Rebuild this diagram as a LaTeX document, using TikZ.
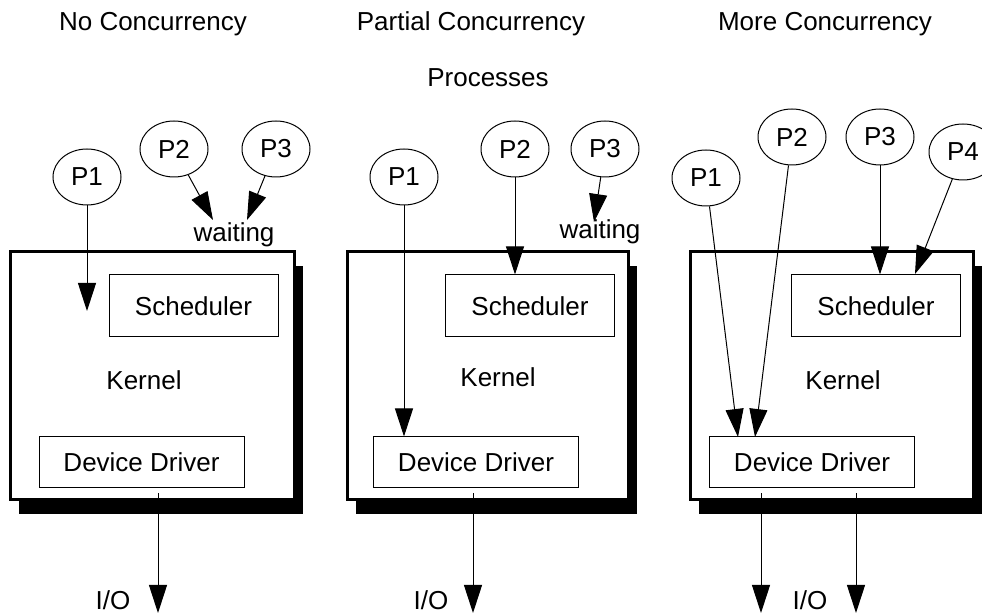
\documentclass[tikz,border=0pt]{standalone}
\usepackage{fontspec}
\setmainfont{Liberation Sans}
\usetikzlibrary{arrows.meta,shapes.geometric,shadows}
\begin{document}
\begin{tikzpicture}[x=0.5pt, y=-0.5pt,
	>={Triangle[length=14pt, width=9pt]},
	every path/.style={line width=0.5pt},
	font=\fontsize{13}{15}\selectfont,
	proc/.style={ellipse, draw, inner sep=0, minimum width=34pt,
				minimum height=28pt},
	kernel/.style={rectangle, draw, line width=1.5pt, fill=white,
				minimum height=124pt,
				drop shadow={shadow xshift=4.5pt, shadow yshift=-7pt,
					opacity=1, fill=black}},
	unit/.style={rectangle, draw, inner sep=0},
	sched/.style={unit, minimum width=84.5pt, minimum height=31pt},
	driver/.style={unit, minimum width=102.5pt, minimum height=25.5pt}]
	\useasboundingbox (0,0) rectangle (982,614);
	\node[anchor=base] (t1) at (153,31) {No Concurrency};
	\node[anchor=base] (t2) at (471,31) {Partial Concurrency};
	\node[anchor=base] (t3) at (825,31) {More Concurrency};
	\node[anchor=base] (pr) at (488,87) {Processes};

	\node[kernel, minimum width=142pt] (k1) at (152,376) {};
	\node[kernel, minimum width=140.5pt] (k2) at (487.5,376) {};
	\node[kernel, minimum width=141.5pt] (k3) at (831.5,376) {};
	\node (kl1) at (144,380) {Kernel};
	\node (kl2) at (498,377) {Kernel};
	\node (kl3) at (843,380) {Kernel};
	\node[sched] (s1) at (193.5,306) {Scheduler};
	\node[sched] (s2) at (530,306) {Scheduler};
	\node[sched] (s3) at (876,306) {Scheduler};
	\node[driver] (d1) at (141.5,462.5) {Device Driver};
	\node[driver] (d2) at (476,462.5) {Device Driver};
	\node[driver] (d3) at (812,462.5) {Device Driver};

	\node[proc] (a1) at (87,177) {P1};
	\node[proc] (a2) at (174,149) {P2};
	\node[proc] (a3) at (276,149) {P3};
	\node[proc] (b1) at (404,177) {P1};
	\node[proc] (b2) at (515,149) {P2};
	\node[proc] (b3) at (605,149) {P3};
	\node[proc] (c1) at (706,178) {P1};
	\node[proc] (c2) at (792,137) {P2};
	\node[proc] (c3) at (880,137) {P3};
	\node[proc] (c4) at (963,152) {P4};
	\node[anchor=base] (w1) at (234,242) {waiting};
	\node[anchor=base] (w2) at (600,239) {waiting};

	\coordinate (a1e) at (87,311);
	\coordinate (a2e) at (213,220);
	\coordinate (a3e) at (247,220);
	\coordinate (b3e) at (594,222);
	\coordinate (c1e) at (738,437);
	\coordinate (c2e) at (755,437);
	\coordinate (c4e) at (915,274);
	\draw[->] (a1) -- (a1e);
	\draw[->] (a2) -- (a2e);
	\draw[->] (a3) -- (a3e);
	\draw[->] (b1) -- (b1 |- d2.north);
	\draw[->] (b2) -- (b2 |- s2.north);
	\draw[->] (b3) -- (b3e);
	\draw[->] (c1) -- (c1e);
	\draw[->] (c2) -- (c2e);
	\draw[->] (c3) -- (c3 |- s3.north);
	\draw[->] (c4) -- (c4e);

	\coordinate (o1) at (158,613);
	\coordinate (o2) at (473,613);
	\coordinate (o3) at (761,613);
	\coordinate (o4) at (856,613);
	\draw[->, shorten <=2.5pt] (d1.south -| o1) -- (o1);
	\draw[->, shorten <=2.5pt] (d2.south -| o2) -- (o2);
	\draw[->, shorten <=2.5pt] (d3.south -| o3) -- (o3);
	\draw[->, shorten <=2.5pt] (d3.south -| o4) -- (o4);
	\node[anchor=base] (io1) at (113,610) {I/O};
	\node[anchor=base] (io2) at (431,610) {I/O};
	\node[anchor=base] (io3) at (810,610) {I/O};
\end{tikzpicture}
\end{document}
